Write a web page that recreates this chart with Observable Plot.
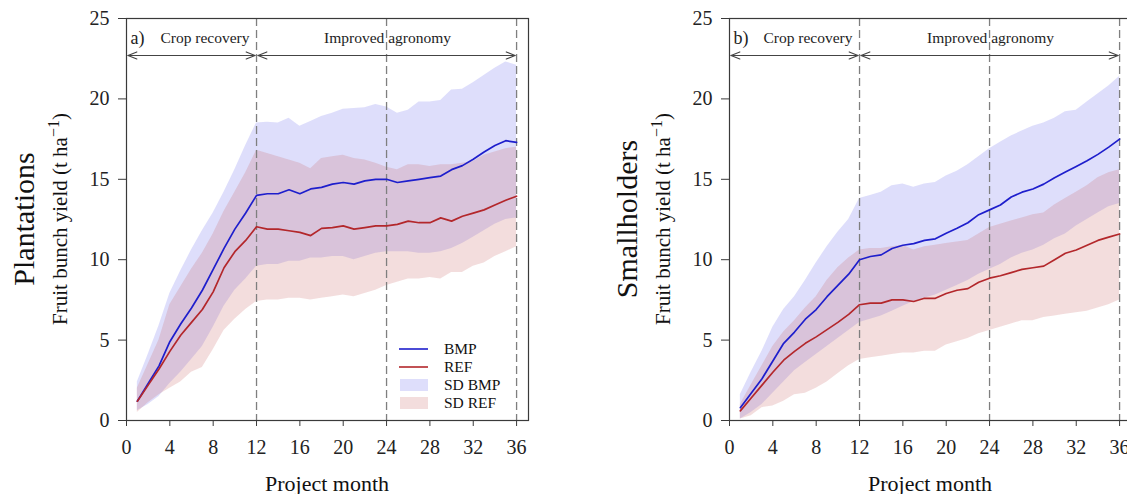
<!DOCTYPE html>
<html>
<head>
<meta charset="utf-8">
<script src="https://cdn.jsdelivr.net/npm/d3@7"></script>
<script src="https://cdn.jsdelivr.net/npm/@observablehq/plot@0.6"></script>
<style>
  html, body { margin: 0; padding: 0; background: #fff; overflow: hidden; }
  #wrap { position: relative; width: 1127px; height: 494px; overflow: hidden; background: #fff; }
  #wrap > svg { position: absolute; top: 0; }
</style>
</head>
<body>
<div id="wrap"></div>
<script>
// Project months on the x axis
const months = [1, 2, 3, 4, 5, 6, 7, 8, 9, 10, 11, 12, 13, 14, 15, 16, 17, 18,
                19, 20, 21, 22, 23, 24, 25, 26, 27, 28, 29, 30, 31, 32, 33, 34, 35, 36];

// a) Plantations: mean yield and ±SD envelope (t ha-1)
const plantBmp = [1.2, 2.3, 3.4, 4.9, 6.0, 7.0, 8.1, 9.4, 10.7, 11.9, 12.9, 14.0,
                  14.1, 14.1, 14.35, 14.1, 14.4, 14.5, 14.7, 14.8, 14.7, 14.9, 15.0, 15.0,
                  14.8, 14.9, 15.0, 15.1, 15.2, 15.6, 15.85, 16.25, 16.7, 17.1, 17.4, 17.3];
const plantRef = [1.2, 2.2, 3.2, 4.3, 5.3, 6.1, 6.9, 8.0, 9.5, 10.5, 11.2, 12.05,
                  11.9, 11.9, 11.8, 11.7, 11.5, 11.95, 12.0, 12.1, 11.9, 12.0, 12.1, 12.1,
                  12.2, 12.4, 12.3, 12.3, 12.6, 12.4, 12.7, 12.9, 13.1, 13.4, 13.7, 13.95];
const plantBmpHi = [2.4, 4.1, 5.9, 7.9, 9.3, 10.6, 11.8, 12.9, 14.2, 15.6, 17.1, 18.5,
                    18.55, 18.5, 18.8, 18.3, 18.6, 18.9, 19.1, 19.35, 19.4, 19.45, 19.65, 19.5,
                    19.1, 19.3, 19.8, 19.8, 19.9, 20.55, 20.6, 21.0, 21.45, 21.9, 22.3, 22.1];
const plantBmpLo = [0.6, 1.0, 1.5, 2.3, 3.0, 3.8, 4.6, 5.8, 7.1, 8.1, 8.8, 9.6,
                    9.7, 9.7, 9.9, 9.9, 10.1, 10.1, 10.2, 10.2, 10.0, 10.2, 10.4, 10.5,
                    10.5, 10.5, 10.4, 10.4, 10.5, 10.7, 11.0, 11.4, 11.8, 12.2, 12.5, 12.6];
const plantRefHi = [2.0, 3.5, 5.0, 7.2, 8.3, 9.4, 10.4, 11.6, 13.0, 14.2, 15.4, 16.8,
                    16.6, 16.4, 16.2, 16.0, 15.65, 16.3, 16.4, 16.5, 16.3, 16.2, 16.0, 15.75,
                    15.6, 15.9, 15.9, 15.8, 15.9, 15.9, 16.0, 16.1, 16.5, 16.7, 16.9, 17.0];
const plantRefLo = [0.5, 1.1, 1.6, 2.0, 2.4, 3.0, 3.3, 4.4, 5.6, 6.3, 6.9, 7.4,
                    7.5, 7.5, 7.6, 7.6, 7.5, 7.6, 7.7, 7.8, 7.7, 7.9, 8.1, 8.4,
                    8.6, 8.8, 8.8, 8.9, 8.8, 9.2, 9.2, 9.6, 9.8, 10.2, 10.5, 10.8];

// b) Smallholders: mean yield and ±SD envelope (t ha-1)
const smallBmp = [0.8, 1.7, 2.6, 3.7, 4.8, 5.5, 6.3, 6.9, 7.7, 8.4, 9.1, 10.0,
                  10.2, 10.3, 10.7, 10.9, 11.0, 11.2, 11.3, 11.65, 11.95, 12.3, 12.8, 13.1,
                  13.4, 13.9, 14.2, 14.4, 14.7, 15.1, 15.45, 15.8, 16.15, 16.55, 17.0, 17.5];
const smallRef = [0.6, 1.4, 2.2, 3.0, 3.75, 4.3, 4.8, 5.2, 5.65, 6.1, 6.6, 7.2,
                  7.3, 7.3, 7.5, 7.5, 7.4, 7.6, 7.6, 7.9, 8.1, 8.2, 8.6, 8.85,
                  9.0, 9.2, 9.4, 9.5, 9.6, 10.0, 10.4, 10.6, 10.9, 11.2, 11.4, 11.6];
const smallBmpHi = [1.6, 3.0, 4.3, 5.8, 6.9, 7.7, 8.7, 9.8, 10.8, 11.7, 12.5, 13.8,
                    14.0, 14.2, 14.6, 14.7, 14.5, 14.7, 14.8, 15.2, 15.5, 15.9, 16.4, 16.9,
                    17.3, 17.7, 18.0, 18.3, 18.5, 18.8, 19.2, 19.3, 19.8, 20.3, 20.8, 21.4];
const smallBmpLo = [0.1, 0.5, 1.0, 1.7, 2.4, 3.1, 3.6, 4.1, 4.6, 5.1, 5.6, 6.1,
                    6.3, 6.5, 6.8, 7.1, 7.4, 7.6, 7.8, 8.1, 8.4, 8.7, 9.1, 9.4,
                    9.7, 10.1, 10.4, 10.6, 10.9, 11.3, 11.6, 12.1, 12.5, 12.9, 13.3, 13.5];
const smallRefHi = [1.0, 2.2, 3.4, 4.6, 5.5, 6.2, 7.0, 7.7, 8.7, 9.5, 10.1, 10.6,
                    10.7, 10.7, 10.8, 10.9, 10.6, 10.8, 10.9, 11.0, 11.1, 11.2, 11.6, 12.0,
                    12.2, 12.4, 12.6, 12.8, 12.9, 13.4, 13.8, 14.2, 14.6, 15.1, 15.4, 15.6];
const smallRefLo = [0.1, 0.3, 0.8, 0.9, 1.2, 1.6, 1.7, 2.0, 2.4, 2.9, 3.4, 3.8,
                    3.9, 4.0, 4.1, 4.2, 4.2, 4.3, 4.3, 4.7, 4.9, 5.1, 5.4, 5.6,
                    5.8, 6.0, 6.2, 6.2, 6.4, 6.5, 6.6, 6.7, 6.8, 7.0, 7.2, 7.5];

// Project phases and axis ticks
const phases = [
  {name: "Crop recovery", from: 0, to: 12},
  {name: "Improved agronomy", from: 12, to: 36}
];
const phaseBreaks = [12, 24, 36];
const xTicks = [0, 4, 8, 12, 16, 20, 24, 28, 32, 36];
const yTicks = [0, 5, 10, 15, 20, 25];
const legendItems = ["BMP", "REF", "SD BMP", "SD REF"];

const BLUE = "#1e1ecc";
const RED = "#b3272b";
const BAND_BMP = "#7b7bef";
const BAND_REF = "#c86464";
const BAND_BMP_OPACITY = 0.25;
const BAND_REF_OPACITY = 0.22;
const SERIF = "'Liberation Serif', 'Times New Roman', serif";

function rowsFor(bmp, ref, bmpLo, bmpHi, refLo, refHi) {
  return months.map((m, i) => ({
    month: m, bmp: bmp[i], ref: ref[i],
    bmpLo: bmpLo[i], bmpHi: bmpHi[i], refLo: refLo[i], refHi: refHi[i]
  }));
}

const ML = 126, MT = 18, MB = 74, MR = 20, W = 548, H = 494;

function panel(rows, tag, title) {
  const chart = Plot.plot({
    width: W, height: H,
    marginLeft: ML, marginRight: MR, marginTop: MT, marginBottom: MB,
    x: {domain: [0, 37.1]},
    y: {domain: [0, 25]},
    style: {fontFamily: SERIF, fontSize: "20px", color: "#222", background: "transparent"},
    marks: [
      Plot.areaY(rows, {x: "month", y1: "bmpLo", y2: "bmpHi", fill: BAND_BMP, fillOpacity: BAND_BMP_OPACITY}),
      Plot.areaY(rows, {x: "month", y1: "refLo", y2: "refHi", fill: BAND_REF, fillOpacity: BAND_REF_OPACITY}),
      Plot.ruleX(phaseBreaks, {stroke: "#7f7f7f", strokeWidth: 1.3, strokeDasharray: "8,4"}),
      Plot.lineY(rows, {x: "month", y: "bmp", stroke: BLUE, strokeWidth: 1.7}),
      Plot.lineY(rows, {x: "month", y: "ref", stroke: RED, strokeWidth: 1.7}),
      // double-headed phase arrows
      Plot.arrow(phases, {x1: "from", x2: "to", y1: 22.7, y2: 22.7, stroke: "#444", strokeWidth: 1.1,
                          headLength: 13, headAngle: 44, insetStart: 1.5, insetEnd: 1.5}),
      Plot.arrow(phases, {x1: "to", x2: "from", y1: 22.7, y2: 22.7, stroke: "#444", strokeWidth: 1.1,
                          headLength: 13, headAngle: 44, insetStart: 1.5, insetEnd: 1.5}),
      Plot.text([tag], {x: 0, y: 23.8, text: d => d, textAnchor: "start", dx: 4, fontSize: 18, fill: "#222"}),
      Plot.text(phases.slice(0, 1), {x: "to", y: 23.8, text: "name", textAnchor: "end", dx: -7, fontSize: 15.5, fill: "#222"}),
      Plot.text(phases.slice(1), {x: d => (d.from + d.to) / 2, y: 23.8, text: "name", dx: 1, fontSize: 15.5, fill: "#222"}),
      Plot.frame({stroke: "#3a3a3a", strokeWidth: 1.2}),
      Plot.axisX({ticks: xTicks, tickSize: 6, tickPadding: 13, label: null, stroke: "#3a3a3a"}),
      Plot.axisY({ticks: yTicks, tickSize: 8, tickPadding: 9, label: null, stroke: "#3a3a3a"})
    ]
  });

  const svg = d3.select(chart);
  const cy = MT + (H - MT - MB) / 2;

  svg.append("text")
    .attr("transform", `translate(${ML - 92.5},${cy}) rotate(-90)`)
    .attr("text-anchor", "middle")
    .attr("font-family", SERIF).attr("font-size", 30).attr("fill", "#111")
    .text(title);

  const yt = svg.append("text")
    .attr("transform", `translate(${ML - 59},${cy}) rotate(-90)`)
    .attr("text-anchor", "middle")
    .attr("font-family", SERIF).attr("font-size", 21).attr("fill", "#111");
  yt.append("tspan").text("Fruit bunch yield (t ha");
  yt.append("tspan").attr("font-size", 16).attr("dy", -8).text("−1");
  yt.append("tspan").attr("dy", 8).text(")");

  svg.append("text")
    .attr("x", ML + 201).attr("y", 491)
    .attr("text-anchor", "middle")
    .attr("font-family", SERIF).attr("font-size", 22).attr("fill", "#111")
    .text("Project month");

  return chart;
}

const wrap = document.getElementById("wrap");

const left = panel(rowsFor(plantBmp, plantRef, plantBmpLo, plantBmpHi, plantRefLo, plantRefHi), "a)", "Plantations");
left.style.left = "0px";
wrap.appendChild(left);

const right = panel(rowsFor(smallBmp, smallRef, smallBmpLo, smallBmpHi, smallRefLo, smallRefHi), "b)", "Smallholders");
right.style.left = "603px";
wrap.appendChild(right);

// Legend inside the plantation panel
const legend = d3.select(wrap).append("svg")
  .attr("width", 130).attr("height", 84)
  .style("left", "392px").style("top", "333px");
const rowY = [16, 34, 52, 70];
legendItems.forEach((name, i) => {
  const g = legend.append("g");
  if (i < 2) {
    g.append("line").attr("x1", 7).attr("x2", 36).attr("y1", rowY[i]).attr("y2", rowY[i])
      .attr("stroke", i === 0 ? BLUE : RED).attr("stroke-width", 1.6);
  } else {
    g.append("rect").attr("x", 8).attr("y", rowY[i] - 6).attr("width", 28).attr("height", 12)
      .attr("fill", i === 2 ? BAND_BMP : BAND_REF)
      .attr("fill-opacity", i === 2 ? BAND_BMP_OPACITY : BAND_REF_OPACITY);
  }
  g.append("text").attr("x", 52).attr("y", rowY[i]).attr("dy", "0.35em")
    .attr("font-family", SERIF).attr("font-size", 15.5).attr("fill", "#111")
    .text(name);
});
</script>
</body>
</html>
